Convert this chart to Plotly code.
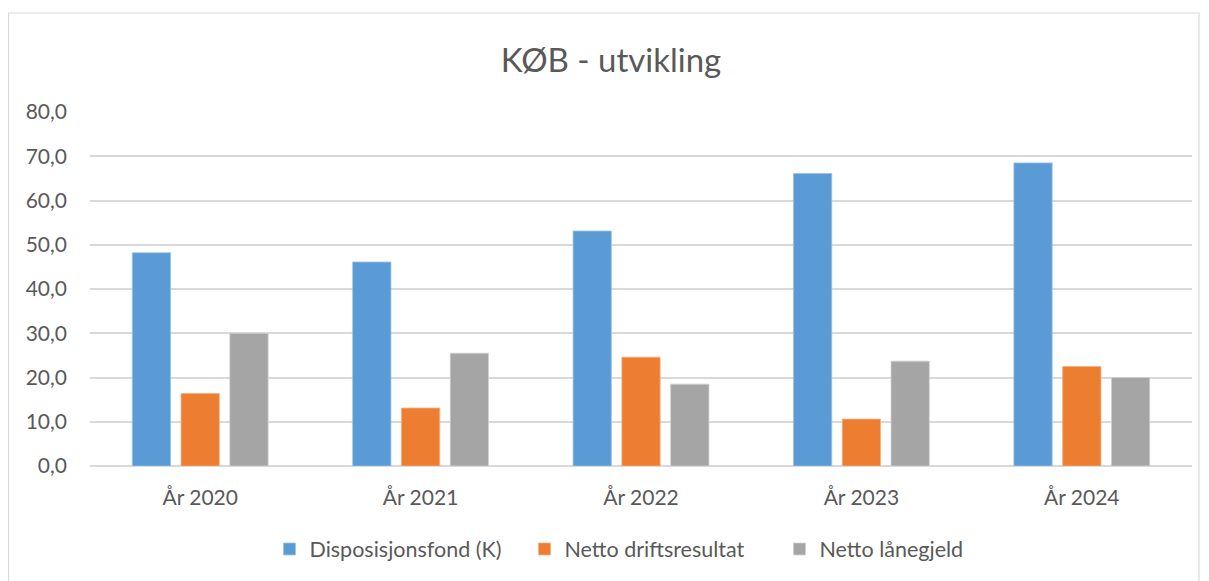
import plotly.graph_objects as go

categories = ["År 2020", "År 2021", "År 2022", "År 2023", "År 2024"]
disposisjonsfond = [48.2, 46.1, 53.1, 66.1, 68.5]
netto_driftsresultat = [16.4, 13.1, 24.6, 10.6, 22.5]
netto_lanegjeld = [30.0, 25.5, 18.5, 23.7, 20.0]
y_ticks = [0, 10, 20, 30, 40, 50, 60, 70, 80]
y_tick_labels = ["0,0", "10,0", "20,0", "30,0", "40,0", "50,0", "60,0", "70,0", "80,0"]

FONT = "Lato, Carlito, Calibri, sans-serif"
GREY = "#595959"

# page has an 8px body margin: figure occupies page x 8..1209, y 8..581
W, H = 1201, 573
L, R, T, B = 82, 17, 104, 115
PW = W - L - R
PH = H - T - B

fig = go.Figure()
fig.add_trace(go.Bar(name="Disposisjonsfond (K)", x=categories, y=disposisjonsfond,
                     marker=dict(color="#5b9bd5", line=dict(color="#9dc3e6", width=0.8))))
fig.add_trace(go.Bar(name="Netto driftsresultat", x=categories, y=netto_driftsresultat,
                     marker=dict(color="#ed7d31", line=dict(color="#f4b183", width=0.8))))
fig.add_trace(go.Bar(name="Netto lånegjeld", x=categories, y=netto_lanegjeld,
                     marker=dict(color="#a5a5a5", line=dict(color="#d0d0d0", width=0.8))))

fig.update_layout(
    width=W, height=H,
    barmode="group", bargap=0.336, bargroupgap=0.215,
    plot_bgcolor="white", paper_bgcolor="white",
    margin=dict(l=L, r=R, t=T, b=B),
    font=dict(family=FONT, color=GREY, size=21),
    title=dict(text="KØB - utvikling", x=(611 - 8) / W, xanchor="center",
               y=1 - (60 - 8) / H, yanchor="middle",
               font=dict(family=FONT, size=33, color=GREY)),
    legend=dict(orientation="h", x=(652 - 8 - L) / PW, xanchor="center",
                y=(458 - (549 - 8)) / PH, yanchor="middle",
                font=dict(family=FONT, size=21.5, color=GREY), itemwidth=30,
                entrywidth=210, entrywidthmode="pixels",
                traceorder="normal"),
    xaxis=dict(showgrid=False, showline=False, ticks="", tickfont=dict(size=21),
               ticklabelstandoff=17),
    yaxis=dict(range=[0, 80], tickvals=y_ticks, ticktext=y_tick_labels,
               showgrid=True, gridcolor="#d9d9d9", gridwidth=1.5,
               zeroline=True, zerolinecolor="#d9d9d9", zerolinewidth=1.5,
               tickfont=dict(size=21), ticklabelstandoff=22, fixedrange=True),
    shapes=[dict(type="rect", xref="paper", yref="paper",
                 x0=(0.5 - L) / PW, x1=(1191 - L) / PW,
                 y0=(PH + T - 600) / PH, y1=(PH + T - 5) / PH,
                 line=dict(color="#d9d9d9", width=1.2), fillcolor="rgba(0,0,0,0)", layer="below")],
)

fig.write_html("out.html")
